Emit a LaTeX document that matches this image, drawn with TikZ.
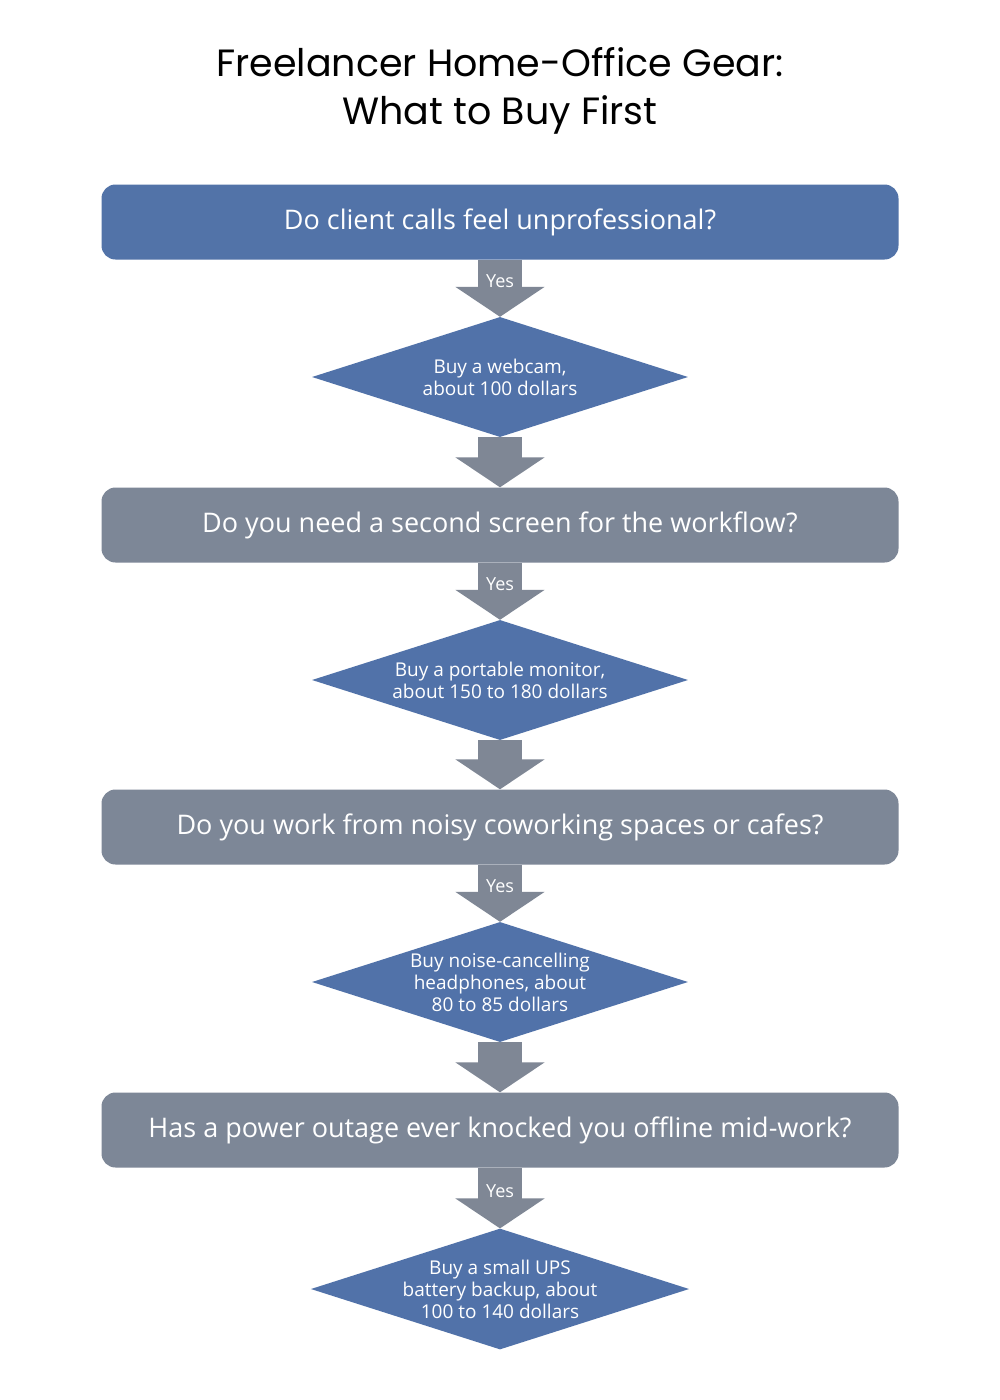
\documentclass[tikz,border=0pt]{standalone}
\usepackage{fontspec}
\setmainfont{Open Sans}
\newfontfamily\titlefont{Poppins}
\usetikzlibrary{shapes.geometric,arrows.meta}
\definecolor{qblue}{HTML}{5273A8}
\definecolor{qgray}{HTML}{7D8797}
\definecolor{dblue}{HTML}{5172A9}
\definecolor{agray}{HTML}{7F8795}
\begin{document}
\begin{tikzpicture}[x=1pt,y=-1pt,
  q/.style={rounded corners=14pt,minimum width=797pt,minimum height=75pt,text=white,font=\fontsize{27}{32}\selectfont,inner sep=0pt},
  d/.style={diamond,aspect=3.13,minimum width=376pt,minimum height=120pt,fill=dblue,text=white,font=\fontsize{19}{22}\selectfont,align=center,inner sep=0pt},
  arr/.style={draw=agray,line width=44pt,-{Triangle[width=88pt,length=30pt]}},
  yes/.style={text=white,font=\fontsize{18}{20}\selectfont}]
\useasboundingbox[fill=white] (0,0) rectangle (1000,1400);
\node[font=\titlefont\fontsize{38}{48}\selectfont,align=center] (t) at (500,91) {Freelancer Home-Office Gear:\\What to Buy First};
\node[q,fill=qblue] (q1) at (500,222) {Do client calls feel unprofessional?};
\node[q,fill=qgray] (q2) at (500,525) {Do you need a second screen for the workflow?};
\node[q,fill=qgray] (q3) at (500,827) {Do you work from noisy coworking spaces or cafes?};
\node[q,fill=qgray] (q4) at (500,1130) {Has a power outage ever knocked you offline mid-work?};
\node[d] (d1) at (500,377) {Buy a webcam,\\about 100 dollars};
\node[d] (d2) at (500,680) {Buy a portable monitor,\\about 150 to 180 dollars};
\node[d] (d3) at (500,982) {Buy noise-cancelling\\headphones, about\\80 to 85 dollars};
\node[d] (d4) at (500,1289) {Buy a small UPS\\battery backup, about\\100 to 140 dollars};
\begin{scope}[on background layer/.style={}]
\draw[arr] (q1.south) -- (d1.north) node[yes,pos=0.38] (y1) {Yes};
\draw[arr] (d1.south) -- (q2.north);
\draw[arr] (q2.south) -- (d2.north) node[yes,pos=0.38] (y2) {Yes};
\draw[arr] (d2.south) -- (q3.north);
\draw[arr] (q3.south) -- (d3.north) node[yes,pos=0.38] (y3) {Yes};
\draw[arr] (d3.south) -- (q4.north);
\draw[arr] (q4.south) -- (d4.north) node[yes,pos=0.38] (y4) {Yes};
\end{scope}
\end{tikzpicture}
\end{document}
